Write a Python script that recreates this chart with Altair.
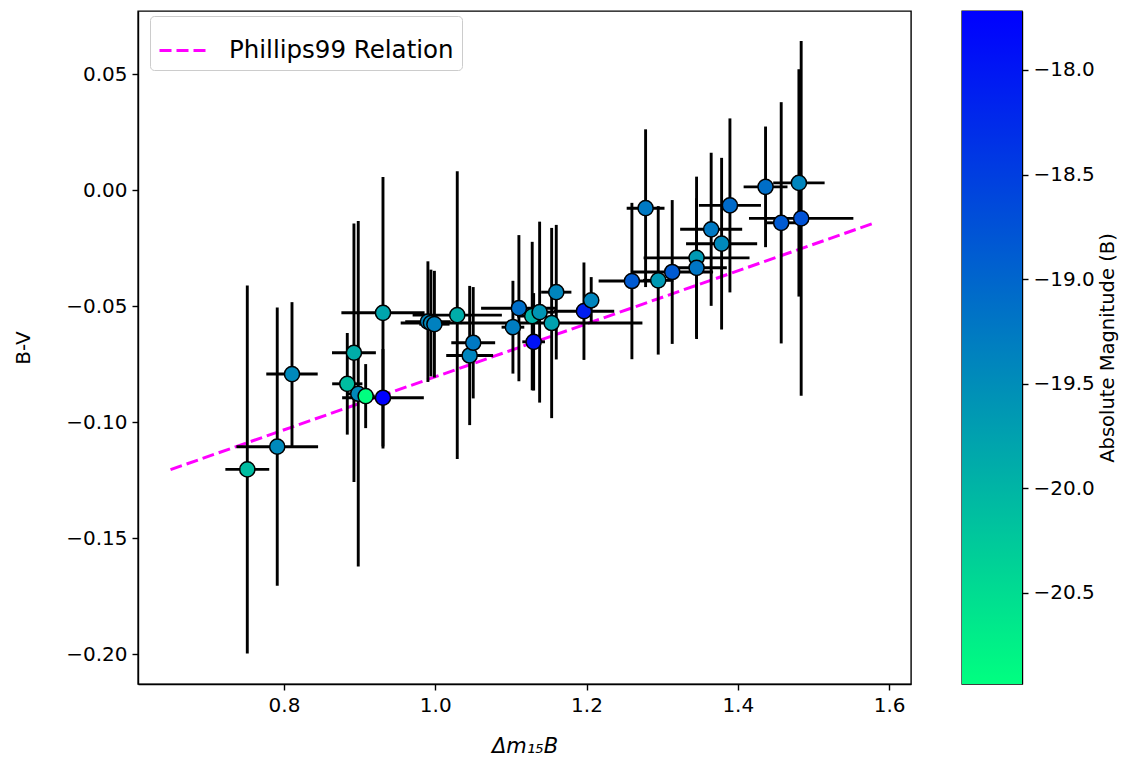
import altair as alt
import pandas as pd

# Delta m15(B) values, B-V colours, their errors and absolute magnitudes (B)
dm15 = [0.7515, 0.7911, 0.8106, 0.8837, 0.8925, 0.8982, 0.9080, 0.9309, 0.9309,
        0.9903, 0.9943, 0.9989, 1.0291, 1.0455, 1.0502, 1.1027, 1.1106, 1.1282,
        1.1301, 1.1380, 1.1539, 1.1600, 1.1966, 1.2062, 1.2600, 1.2781, 1.2948,
        1.3133, 1.3455, 1.3455, 1.3648, 1.3786, 1.3896, 1.4367, 1.4574, 1.4808,
        1.4838]
bv = [-0.1204, -0.1106, -0.0793, -0.0835, -0.0701, -0.0878, -0.0888, -0.0529, -0.0895,
      -0.0567, -0.0573, -0.0578, -0.0539, -0.0713, -0.0658, -0.0591, -0.0509, -0.0543,
      -0.0654, -0.0526, -0.0573, -0.0440, -0.0522, -0.0475, -0.0392, -0.0078, -0.0389,
      -0.0353, -0.0292, -0.0335, -0.0169, -0.0231, -0.0066, 0.0014, -0.0141, 0.0031,
      -0.0122]
dm15_err = [0.029, 0.054, 0.034, 0.020, 0.029, 0.015, 0.012, 0.055, 0.054,
            0.030, 0.040, 0.020, 0.059, 0.031, 0.029, 0.015, 0.050, 0.020,
            0.015, 0.020, 0.120, 0.020, 0.040, 0.010, 0.044, 0.025, 0.020,
            0.054, 0.070, 0.040, 0.041, 0.047, 0.041, 0.029, 0.020, 0.034,
            0.069]
bv_err = [0.0793, 0.0600, 0.0310, 0.0219, 0.0557, 0.0745, 0.0138, 0.0585, 0.0210,
          0.0260, 0.0230, 0.0230, 0.0620, 0.0300, 0.0240, 0.0200, 0.0315, 0.0320,
          0.0210, 0.0390, 0.0410, 0.0290, 0.0210, 0.0100, 0.0337, 0.0340, 0.0320,
          0.0310, 0.0350, 0.0300, 0.0330, 0.0370, 0.0375, 0.0260, 0.0520, 0.0490,
          0.0765]
abs_mag = [-20.10, -19.45, -19.45, -20.10, -19.90, -19.45, -20.935, -19.80, -17.718,
           -19.40, -19.45, -19.35, -19.90, -19.40, -19.25, -19.30, -19.10, -19.95,
           -17.95, -19.60, -19.75, -19.40, -18.10, -19.40, -18.85, -19.25, -19.65,
           -18.85, -19.65, -19.20, -19.25, -19.45, -19.05, -19.10, -18.85, -19.40,
           -18.75]

# Phillips99 relation line (read endpoints)
phillips_x = [0.650, 1.582]
phillips_y = [-0.1205, -0.0140]

x_ticks = [0.8, 1.0, 1.2, 1.4, 1.6]
y_ticks = [-0.20, -0.15, -0.10, -0.05, 0.00, 0.05]
cb_ticks = [-18.0, -18.5, -19.0, -19.5, -20.0, -20.5]
mag_min, mag_max = -20.935, -17.718

FONT = "DejaVu Sans"

df = pd.DataFrame({"x": dm15, "y": bv, "xe": dm15_err, "ye": bv_err, "mag": abs_mag})
df["x_lo"] = df["x"] - df["xe"]
df["x_hi"] = df["x"] + df["xe"]
df["y_lo"] = df["y"] - df["ye"]
df["y_hi"] = df["y"] + df["ye"]

line_df = pd.DataFrame({"x": phillips_x, "y": phillips_y, "label": ["Phillips99 Relation"] * 2})

xscale = alt.Scale(domain=[0.607, 1.629], nice=False, zero=False)
yscale = alt.Scale(domain=[-0.2129, 0.0772], nice=False, zero=False)

xaxis = alt.Axis(values=x_ticks, format=".1f", title="Δm₁₅B", titleFontStyle="italic",
                 titleFontSize=21, grid=False, titlePadding=20)
yaxis = alt.Axis(values=y_ticks, format=".2f", title="B-V", grid=False, titlePadding=32)

W, H = 773, 673

line = alt.Chart(line_df).mark_line(strokeDash=[12, 5], strokeWidth=3).encode(
    x=alt.X("x:Q", scale=xscale, axis=xaxis),
    y=alt.Y("y:Q", scale=yscale, axis=yaxis),
    stroke=alt.Stroke("label:N", scale=alt.Scale(range=["#ff00ff"]),
                      legend=alt.Legend(title=None, orient="none", legendX=12, legendY=5,
                                        symbolType="stroke", symbolSize=2500,
                                        symbolStrokeWidth=3, symbolDash=[12, 5],
                                        labelFontSize=24.5, labelFont=FONT, labelColor="black",
                                        labelOffset=18, labelLimit=500,
                                        strokeColor="#cccccc", fillColor="white",
                                        cornerRadius=4, padding=8)),
)

xerr = alt.Chart(df).mark_rule(color="black", strokeWidth=2.9).encode(
    x=alt.X("x_lo:Q", scale=xscale, axis=xaxis),
    x2="x_hi:Q",
    y=alt.Y("y:Q", scale=yscale, axis=yaxis),
)
yerr = alt.Chart(df).mark_rule(color="black", strokeWidth=2.9).encode(
    x=alt.X("x:Q", scale=xscale, axis=xaxis),
    y=alt.Y("y_lo:Q", scale=yscale, axis=yaxis),
    y2="y_hi:Q",
)
pts = alt.Chart(df).mark_point(filled=True, shape="circle", size=230, opacity=1,
                               stroke="black", strokeWidth=1.5).encode(
    x=alt.X("x:Q", scale=xscale, axis=xaxis),
    y=alt.Y("y:Q", scale=yscale, axis=yaxis),
    fill=alt.Fill("mag:Q", scale=alt.Scale(domain=[mag_min, mag_max], range=["#00ff80", "#0000ff"],
                                           interpolate="rgb"), legend=None),
)

main = alt.layer(line, yerr, xerr, pts).properties(width=W, height=H)

cb_df = pd.DataFrame({"lo": [mag_min], "hi": [mag_max]})
cbar = alt.Chart(cb_df).mark_rect(
    fill=alt.LinearGradient(gradient="linear",
                            stops=[alt.GradientStop(color="#00ff80", offset=0),
                                   alt.GradientStop(color="#0000ff", offset=1)],
                            x1=0, x2=0, y1=1, y2=0),
).encode(
    x=alt.value(0), x2=alt.value(60),
    y=alt.Y("lo:Q", scale=alt.Scale(domain=[mag_min, mag_max], nice=False, zero=False),
            axis=alt.Axis(orient="right", values=cb_ticks, format=".1f",
                          title="Absolute Magnitude (B)", titleAngle=270, titlePadding=23,
                          titleFontSize=19.5, grid=False)),
    y2="hi:Q",
).properties(width=60, height=H)

chart = alt.hconcat(main, cbar, spacing=49).properties(
    padding={"left": 13, "top": 10, "right": 3, "bottom": 5},
    background="white",
).configure_view(stroke="black", strokeWidth=1.4).configure_axis(
    labelFont=FONT, titleFont=FONT, labelFontSize=20, titleFontSize=20,
    labelColor="black", titleColor="black", titleFontWeight="normal",
    domainColor="black", domainWidth=1.4, tickColor="black", tickWidth=1.4, tickSize=6,
    labelPadding=5,
)

chart.save("out.html", embed_options={"renderer": "svg", "actions": False})
